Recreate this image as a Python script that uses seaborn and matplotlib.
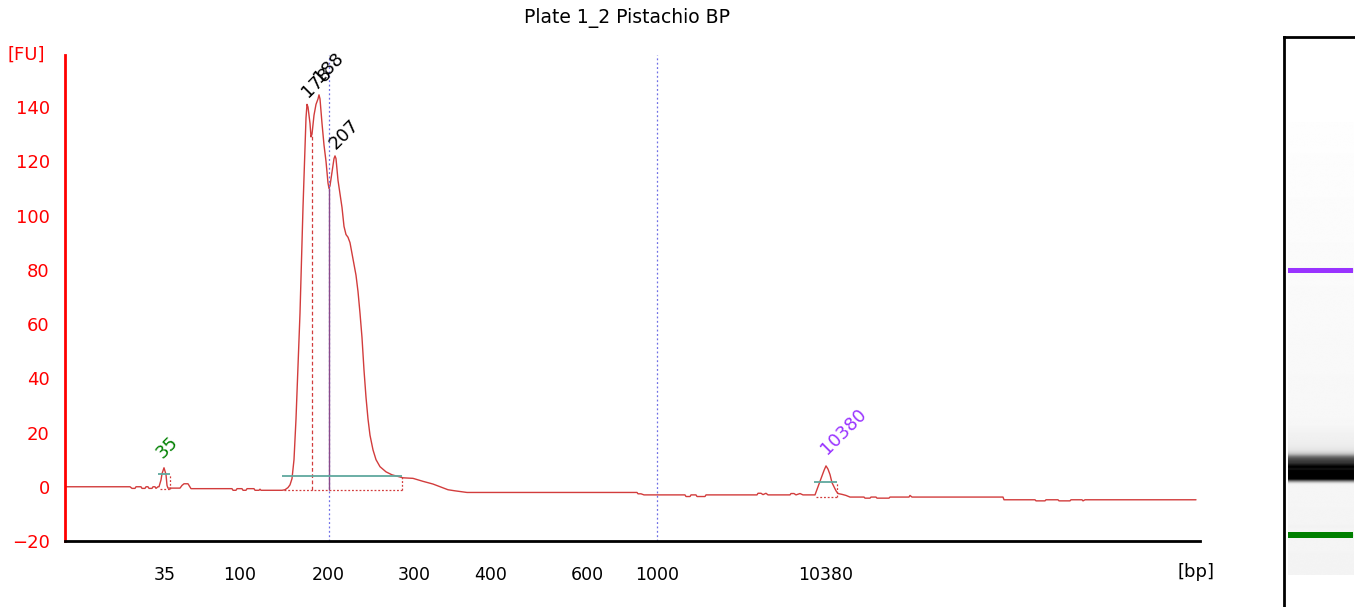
import numpy as np
import pandas as pd
import matplotlib
matplotlib.use("Agg")
import matplotlib.pyplot as plt
import seaborn as sns

# Datos del electroferograma (tiempo de migracion en s, fluorescencia en FU)
trace_t = [6.5, 13.0, 13.2, 13.5, 13.6, 14.1, 14.2, 14.5, 14.6, 14.8, 14.9, 15.2, 15.3, 15.5, 15.6,
           15.8, 15.9, 16.1, 16.2, 16.4, 16.6, 16.7, 16.8, 18.0, 18.2, 18.4, 18.8, 19.1, 23.2, 23.3,
           23.6, 23.7, 24.2, 24.3, 24.6, 24.7, 25.4, 25.5, 25.9, 26.0, 26.1, 28.2, 28.5, 28.8, 29.0,
           29.2, 29.4, 29.6, 29.8, 30.0, 30.2, 30.3, 30.5, 30.6, 30.7, 30.8, 31.0, 31.1, 31.2, 31.4,
           31.6, 31.8, 31.9, 32.0, 32.2, 32.4, 32.6, 32.8, 32.9, 33.0, 33.2, 33.4, 33.5, 33.6, 33.8,
           34.0, 34.2, 34.4, 34.6, 34.8, 35.0, 35.2, 35.4, 35.6, 35.8, 36.0, 36.2, 36.4, 36.6, 36.8,
           37.0, 37.3, 37.6, 38.0, 38.6, 39.2, 39.8, 40.3, 41.3, 42.3, 43.3, 44.0, 44.8, 45.5, 46.7,
           63.7, 63.8, 64.1, 64.4, 68.5, 68.6, 69.0, 69.1, 69.6, 69.7, 70.5, 70.6, 75.7, 75.8, 76.1,
           76.3, 76.6, 76.8, 79.0, 79.1, 79.4, 79.6, 80.0, 80.3, 81.5, 81.7, 82.0, 82.2, 82.4, 82.6,
           82.8, 83.0, 83.2, 83.4, 83.6, 83.8, 84.2, 84.6, 85.0, 86.4, 86.5, 87.0, 87.1, 87.6, 87.7,
           88.9, 89.0, 90.9, 91.0, 91.2, 100.3, 100.4, 103.5, 103.6, 104.5, 104.6, 105.8, 105.9, 107.0,
           107.1, 108.2, 108.3, 108.5, 119.6]
trace_fu = [0.0, 0.0, -0.6, -0.6, 0.0, 0.0, -0.6, -0.6, 0.0, 0.0, -0.6, -0.6, 0.0, 0.0, -0.6,
            0.0, 0.0, 2.5, 4.8, 7.0, 4.5, 0.5, -0.5, -0.5, 0.5, 1.1, 1.1, -0.7, -0.7, -1.3,
            -1.3, -0.7, -0.7, -1.3, -1.3, -0.7, -0.7, -1.3, -1.3, -0.9, -1.3, -1.3, -1.1, -0.3, 0.7,
            3.0, 10, 25, 45, 64, 90, 103, 125, 136, 141, 140, 134, 129, 130, 137,
            141, 143, 144.5, 143, 134, 126, 120, 112, 110, 111, 116, 121, 122, 121, 113,
            108, 103, 96, 93, 92, 90, 86, 82, 78, 72, 64, 55, 43, 33, 25,
            19, 13.6, 10, 7.4, 5.5, 4.4, 3.8, 3.3, 3.1, 2.0, 1.0, 0.0, -1.1, -1.5, -2.1,
            -2.1, -2.6, -2.6, -3.0, -3.0, -3.6, -3.6, -3.0, -3.0, -3.6, -3.6, -3.0, -3.0, -2.4, -2.4,
            -2.9, -2.4, -3.0, -3.0, -2.5, -2.5, -3.0, -2.5, -3.0, -3.0, -1.0, 2.0, 4.0, 6.0, 7.7,
            6.5, 4.5, 1.5, 0.0, -1.5, -2.5, -2.8, -3.2, -3.8, -3.8, -4.2, -4.2, -3.8, -3.8, -4.2,
            -4.2, -3.8, -3.8, -3.2, -3.8, -3.8, -4.8, -4.8, -5.2, -5.2, -4.8, -4.8, -5.2, -5.2,
            -4.8, -4.8, -5.2, -4.8, -4.8]

# Escala de tamanos (bp) y su posicion en tiempo
ladder_bp = [35, 50, 100, 150, 200, 300, 400, 500, 600, 700, 1000, 2000, 3000, 7000, 10380]
ladder_t = [16.5, 18.7, 24.0, 28.6, 32.85, 41.4, 49.05, 54.5, 58.7, 61.7, 65.7, 71.6, 74.6, 79.4, 82.6]
labeled_bp = [35, 100, 200, 300, 400, 600, 1000, 10380]

# Picos anotados: texto, posicion de la etiqueta y color
peak_labels = ["35", "178", "188", "207", "10380"]
peak_label_t = [16.3, 30.8, 32.0, 33.6, 82.7]
peak_label_fu = [10.3, 143.5, 149.0, 124.0, 11.6]
peak_label_colors = ["green", "black", "black", "black", "#9933ff"]

# Regiones de integracion: inicio, fin, linea base superior e inferior
region_start = [15.8, 28.2, 81.4]
region_end = [17.0, 40.2, 83.7]
region_top = [4.8, 3.9, 1.6]
region_bottom = [-0.7, -1.1, -3.6]

# Marcadores en el gel
marker_t = [16.5, 82.6]
marker_colors = ["#008000", "#9933ff"]

RED = "#ff0000"
TRACE = "#d23c3c"

sns.set_style("white")
plt.rcParams["font.family"] = ["DejaVu Sans"]

fig = plt.figure(figsize=(13.55, 6.07), dpi=100)
ax = fig.add_axes([65 / 1355, 66 / 607, 1135 / 1355, 486 / 607])

df = pd.DataFrame({"t": trace_t, "fu": trace_fu})
sns.lineplot(data=df, x="t", y="fu", ax=ax, sort=False, estimator=None,
             color=TRACE, linewidth=1.0)

ax.set_xlim(6.5, 120.0)
ax.set_ylim(-20, 159.2)

# lineas verticales de referencia
for xv in [32.85, 65.7]:
    ax.axvline(xv, color="#6f6fe6", linestyle=(0, (1.5, 2)), linewidth=0.9)
ax.vlines(31.2, -1.1, 130, color=TRACE, linestyle=(0, (3, 2)), linewidth=0.9)
ax.vlines(32.85, -1.1, 110, color="#8a4a8a", linewidth=1.0)

# lineas de base de los picos
for x0, x1, top, bot in zip(region_start, region_end, region_top, region_bottom):
    ax.hlines(top, x0, x1, color="#5fa89e", linewidth=1.3)
    ax.hlines(bot, x0 + 0.2, x1, color=TRACE, linestyle=(0, (1.5, 1.5)), linewidth=0.9)
    ax.vlines(x1, bot, top, color=TRACE, linestyle=(0, (1.5, 1.5)), linewidth=0.9)

for txt, xt, yt, col in zip(peak_labels, peak_label_t, peak_label_fu, peak_label_colors):
    ax.text(xt, yt, txt, rotation=45, rotation_mode="anchor", ha="left", va="baseline",
            fontsize=13, color=col)

# ejes
sns.despine(ax=ax, top=True, right=True)
ax.spines["left"].set_color(RED)
ax.spines["left"].set_linewidth(2)
ax.spines["bottom"].set_color("black")
ax.spines["bottom"].set_linewidth(2)

ax.set_yticks(np.arange(-20, 141, 20))
ax.tick_params(axis="y", colors=RED, labelcolor=RED, length=9, width=1.5,
               direction="out", labelsize=13, pad=2)
ax.set_xticks(ladder_t)
ax.set_xticklabels([str(b) if b in labeled_bp else "" for b in ladder_bp])
ax.tick_params(axis="x", colors="black", length=12, width=1.8, direction="out",
               labelsize=12.5, pad=6)
ax.set_xlabel("")
ax.set_ylabel("")

ax.text(-0.0505, 1.0, "[FU]", transform=ax.transAxes, color=RED, fontsize=13,
        ha="left", va="center")
ax.text(1.0132, -0.064, "[bp]", transform=ax.transAxes, color="black", fontsize=13,
        ha="right", va="center")
fig.text(627 / 1355, 1 - 18 / 607, "Plate 1_2 Pistachio BP", ha="center", va="center",
         fontsize=13.5, color="black")

# gel virtual a la derecha
gel = fig.add_axes([1284 / 1355, -13 / 607, 96 / 1355, 583 / 607])
gel.set_xlim(0, 1)
gel.set_ylim(-4.75, 141)
grid_t = np.linspace(trace_t[0], trace_t[-1], 1200)
vals = np.interp(grid_t, trace_t, trace_fu)
base = np.linspace(0.955, 0.995, grid_t.size)
shade = base * (1 - np.clip(vals / 120.0, 0, 1))
img = np.repeat(shade[:, None], 2, axis=1)
lane_right = 69 / 96
gel.imshow(img, cmap="gray", vmin=0, vmax=1, aspect="auto", origin="lower",
           extent=[0.04, lane_right, trace_t[0], trace_t[-1]], interpolation="bilinear")
for mt, mc in zip(marker_t, marker_colors):
    gel.axhspan(mt - 0.7, mt + 0.7, xmin=0.04, xmax=lane_right, color=mc, lw=0)
gel.set_xticks([])
gel.set_yticks([])
for side in ["left", "top"]:
    gel.spines[side].set_color("black")
    gel.spines[side].set_linewidth(2)
    gel.spines[side].set_visible(True)

fig.savefig("out.png", dpi=100)
